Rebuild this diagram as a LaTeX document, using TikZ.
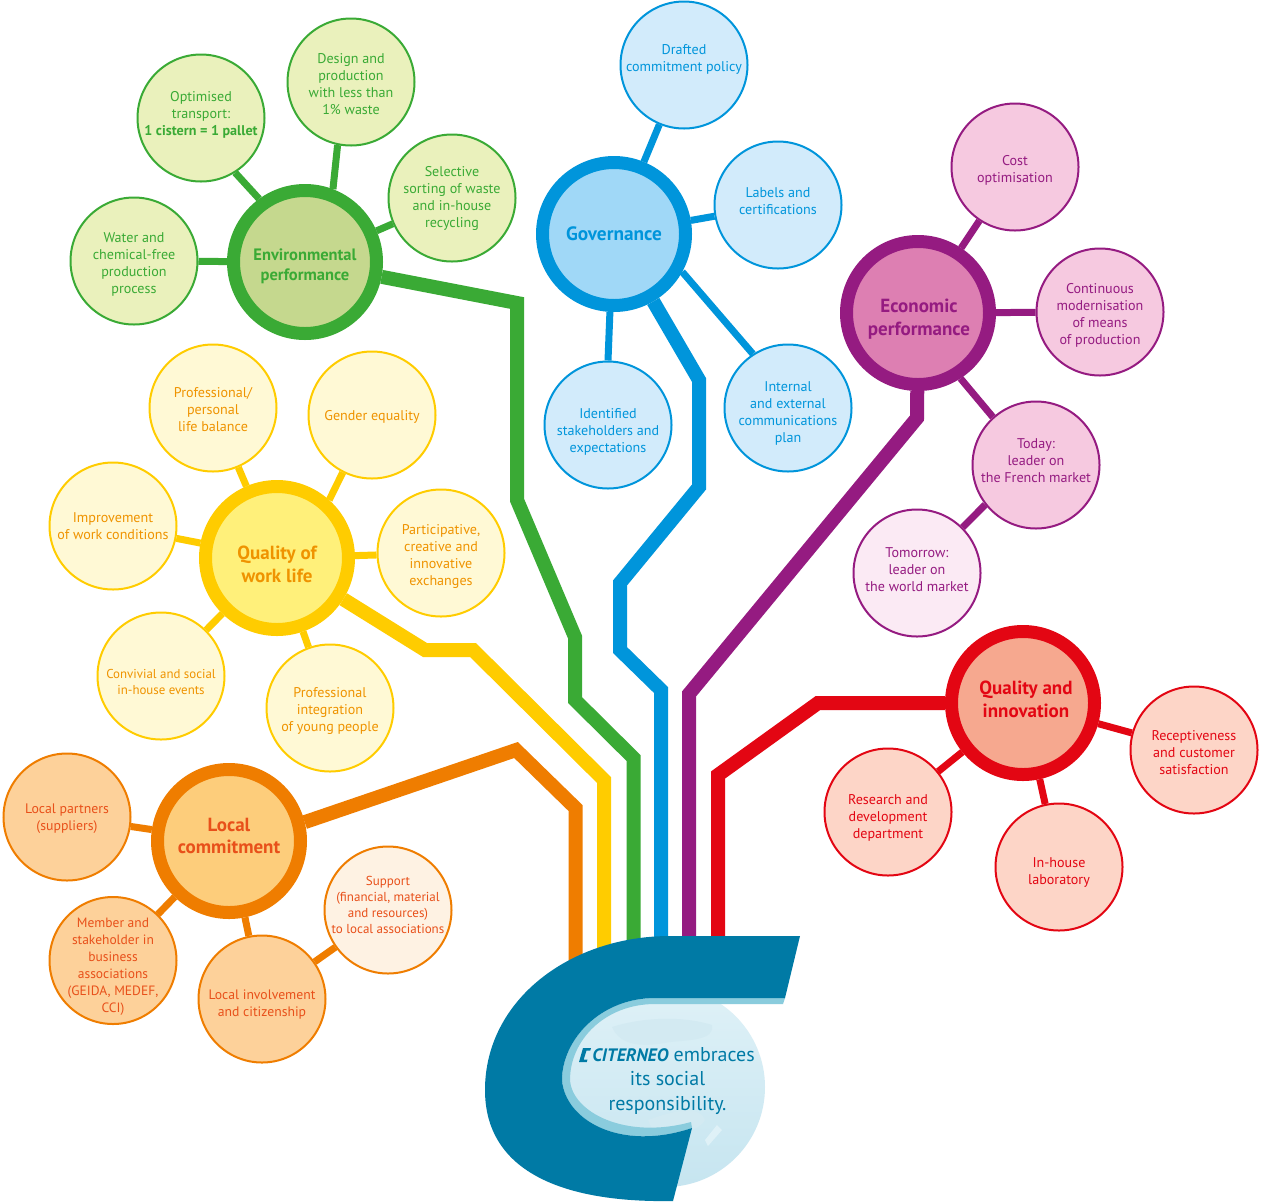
\documentclass[tikz,border=0pt]{standalone}
\usepackage{fontspec}
\setmainfont{PT Sans}
\usetikzlibrary{backgrounds,shapes.geometric}
\definecolor{cgreen}{HTML}{3AAA35}\definecolor{cblue}{HTML}{0095DB}\definecolor{cpurple}{HTML}{951B81}
\definecolor{cyellow}{HTML}{FFCC00}\definecolor{corange}{HTML}{EF7D00}\definecolor{cred}{HTML}{E30613}
\definecolor{tyellow}{HTML}{EF9300}\definecolor{torange}{HTML}{E8501A}
\definecolor{teal}{HTML}{007AA5}\definecolor{band}{HTML}{8ACCDD}
\definecolor{leafgreen}{HTML}{EAF1BC}\definecolor{leafblue}{HTML}{D2EBFB}\definecolor{leafpurple}{HTML}{F6C9E0}
\definecolor{leafyellow}{HTML}{FFF9D5}\definecolor{leaforange}{HTML}{FDD19A}\definecolor{leafred}{HTML}{FDD5C7}
\definecolor{hubgreen}{HTML}{C5D88E}\definecolor{hubblue}{HTML}{A0D8F7}\definecolor{hubpurple}{HTML}{DD7FB2}
\definecolor{hubyellow}{HTML}{FFF07A}\definecolor{huborange}{HTML}{FDCD7B}\definecolor{hubred}{HTML}{F6A88F}
\definecolor{palepurple}{HTML}{FBEAF4}\definecolor{paleorange}{HTML}{FEF2E3}
\definecolor{globetop}{HTML}{DFF1F7}\definecolor{globebot}{HTML}{C6E5F0}\definecolor{land}{HTML}{D3EAF2}
% move the text of a node down or up by #1 px
\newcommand\dnby[1]{\vphantom{Ag}\\[\dimexpr #1pt*2-\baselineskip\relax]}
\newcommand\upby[1]{\\[\dimexpr #1pt*2-\baselineskip\relax]\vphantom{Ag}}
\tikzset{
 x=1pt,y=-1pt,
 leaf/.style={circle,draw,line width=2pt,minimum size=127pt,inner sep=-12pt,align=center,
   font=\fontsize{14.1}{17}\selectfont},
 hub/.style={circle,draw,line width=13pt,minimum size=143pt,inner sep=0pt,align=center,
   font=\fontsize{19}{23}\selectfont\bfseries},
 lgreen/.style={leaf,draw=cgreen,fill=leafgreen,text=cgreen},
 lblue/.style={leaf,draw=cblue,fill=leafblue,text=cblue},
 lpurple/.style={leaf,draw=cpurple,fill=leafpurple,text=cpurple},
 lyellow/.style={leaf,draw=cyellow,fill=leafyellow,text=tyellow},
 lorange/.style={leaf,draw=corange,fill=leaforange,text=torange},
 lred/.style={leaf,draw=cred,fill=leafred,text=cred},
 trunk/.style={line width=14pt,line join=miter},
 twig/.style={line width=7pt},
}
\begin{document}
\begin{tikzpicture}
\path[use as bounding box] (0,0) rectangle (1263,1203);
% hubs
\node[hub,draw=cgreen,fill=hubgreen,text=cgreen,font=\fontsize{16.5}{20}\selectfont\bfseries] (env) at (305,262) {\dnby{4}Environmental\\performance};
\node[hub,draw=cblue,fill=hubblue,text=cblue,font=\fontsize{19.3}{22}\selectfont\bfseries] (gov) at (614,234) {Governance};
\node[hub,draw=cpurple,fill=hubpurple,text=cpurple] (eco) at (918,313) {\dnby{6.5}\hspace*{2pt}Economic\\\hspace*{2pt}performance};
\node[hub,draw=cyellow,fill=hubyellow,text=tyellow] (qwl) at (277,558) {\dnby{6.5}Quality of\\work life};
\node[hub,draw=corange,fill=huborange,text=torange,font=\fontsize{19}{22}\selectfont\bfseries] (loc) at (229,841) {Local\\commitment\upby{3}};
\node[hub,draw=cred,fill=hubred,text=cred,font=\fontsize{19}{23}\selectfont\bfseries] (qin) at (1023,703) {\hspace*{6pt}Quality and\\\hspace*{6pt}innovation\upby{1.5}};
% leaves
\node[lgreen] (e1) at (134,261) {\dnby{3}Water and\\chemical-free\\production\\process};
\node[lgreen] (e2) at (201,118) {Optimised\\transport:\\\textbf{1 cistern = 1 pallet}\upby{3.5}};
\node[lgreen] (e3) at (351,82) {\dnby{2.5}Design and\\production\\with less than\\1\% waste};
\node[lgreen] (e4) at (452,198) {Selective\\sorting of waste\\and in-house\\recycling};
\node[lblue] (g1) at (684,65) {Drafted\\commitment policy\upby{5.5}};
\node[lblue] (g2) at (778,205) {Labels and\\certifications\upby{2}};
\node[lblue] (g3) at (788,408) {\dnby{5}Internal\\and external\\communications\\plan};
\node[lblue] (g4) at (608,425) {\dnby{7}Identified\\stakeholders and\\expectations};
\node[lpurple] (p1) at (1015,167) {\dnby{3.5}Cost\\optimisation};
\node[lpurple] (p2) at (1100,312) {\dnby{3}Continuous\\modernisation\\of means\\of production};
\node[lpurple] (p3) at (1036,465) {Today:\\leader on\\the French market\upby{2.5}};
\node[lpurple,fill=palepurple] (p4) at (917,573) {Tomorrow:\\leader on\\the world market\upby{1.5}};
\node[lyellow] (y1) at (372,415) {\dnby{2}Gender equality};
\node[lyellow] (y2) at (213,408) {\dnby{2}Professional/\\personal\\life balance};
\node[lyellow] (y3) at (113,526) {Improvement\\of work conditions};
\node[lyellow] (y4) at (441,553) {\dnby{3}Participative,\\creative and\\innovative\\exchanges};
\node[lyellow,font=\fontsize{12.9}{16}\selectfont] (y5) at (161,676) {\dnby{6}Convivial and social\\in-house events};
\node[lyellow] (y6) at (330,708) {\dnby{3}Professional\\integration\\of young people};
\node[lorange,font=\fontsize{13.8}{17}\selectfont] (o1) at (67,817) {\dnby{2}Local partners\\(suppliers)};
\node[lorange,font=\fontsize{13.5}{17}\selectfont] (o2) at (113,960.5) {\dnby{6.5}Member and\\stakeholder in\\business\\associations\\(GEIDA, MEDEF,\\CCI)};
\node[lorange,font=\fontsize{13.7}{17}\selectfont] (o3) at (262,999) {\dnby{5}Local involvement\\and citizenship};
\node[lorange,fill=paleorange,font=\fontsize{13}{16}\selectfont] (o4) at (388,910) {Support\\(financial, material\\and resources)\\to local associations\upby{4}};
\node[lred] (r1) at (888,812) {\dnby{6}Research and\\development\\department};
\node[lred] (r2) at (1059,867) {\dnby{5}In-house\\laboratory};
\node[lred] (r3) at (1194,750) {\dnby{3}Receptiveness\\and customer\\satisfaction};
% bend points
\coordinate (gr1) at (517,303);\coordinate (gr2) at (517,500);\coordinate (gr3) at (575,637);
\coordinate (gr4) at (575,700);\coordinate (gr5) at (633.5,758);\coordinate (gr6) at (633.5,985);
\coordinate (bl1) at (699,380);\coordinate (bl2) at (699,487);\coordinate (bl3) at (620,583);
\coordinate (bl4) at (620,650);\coordinate (bl5) at (661,690);\coordinate (bl6) at (661,985);
\coordinate (pu1) at (917,418);\coordinate (pu2) at (689,694);\coordinate (pu3) at (689,985);
\coordinate (re1) at (818,703);\coordinate (re2) at (718,775);\coordinate (re3) at (718,985);
\coordinate (ye1) at (425,650);\coordinate (ye2) at (473,650);\coordinate (ye3) at (604,780);\coordinate (ye4) at (604,985);
\coordinate (or1) at (516,750);\coordinate (or2) at (575.5,808);\coordinate (or3) at (575.5,985);
\begin{scope}[on background layer]
\fill[white] (0,0) rectangle (1263,1203);
\draw[trunk,cgreen] (env) -- (gr1) -- (gr2) -- (gr3) -- (gr4) -- (gr5) -- (gr6);
\draw[trunk,cblue] (gov) -- (bl1) -- (bl2) -- (bl3) -- (bl4) -- (bl5) -- (bl6);
\draw[trunk,cpurple] (eco) -- (pu1) -- (pu2) -- (pu3);
\draw[trunk,cred] (qin) -- (re1) -- (re2) -- (re3);
\draw[trunk,cyellow] (qwl) -- (ye1) -- (ye2) -- (ye3) -- (ye4);
\draw[trunk,corange] (loc.14) -- (or1) -- (or2) -- (or3);
\draw[twig,cgreen] (env)--(e1) (env.126)--(e2.-58) (env.69)--(e3.-102) (env)--(e4);
\draw[twig,cblue] (gov)--(g1) (gov)--(g2) (gov.-29)--(g3.123) (gov.-93)--(g4.90);
\draw[twig,cpurple] (eco)--(p1) (eco)--(p2) (eco.-57)--(p3.132) (p3.218)--(p4.45);
\draw[twig,cyellow] (qwl.48)--(y1.-117) (qwl)--(y2) (qwl)--(y3) (qwl)--(y4) (qwl)--(y5) (qwl)--(y6);
\draw[twig,corange] (loc)--(o1) (loc)--(o2) (loc)--(o3) (o3)--(o4);
\draw[twig,cred] (qin)--(r1) (qin)--(r2) (qin)--(r3);
\end{scope}
% logo: globe
\shade[top color=globetop,bottom color=globebot] (665,1087) circle (100);
\fill[land] (612,1027) .. controls (640,1018) and (680,1015) .. (712,1025) .. controls (715,1040) and (690,1040) .. (670,1042) .. controls (640,1048) and (620,1045) .. (612,1027) -- cycle;
\fill[land] (648,1120) .. controls (675,1110) and (700,1105) .. (705,1120) .. controls (700,1130) and (680,1135) .. (655,1135) -- cycle;
\fill[globetop] (705,1140) -- (717,1125) -- (722,1130) -- (708,1146) -- cycle;
% logo: band and C
\fill[band] (785,998) -- (783,1004) -- (655,1004) .. controls (605,1004) and (570,1040) .. (570,1080) .. controls (572,1112) and (625,1140) .. (691,1122) -- (692,1128) .. controls (620,1152) and (565,1120) .. (562,1080) .. controls (562,1040) and (600,998) .. (655,998) -- cycle;
\fill[teal] (800,936) -- (785,998) -- (655,998) .. controls (600,998) and (562,1040) .. (562,1080) .. controls (565,1120) and (620,1152) .. (692,1128) -- (673,1201) .. controls (560,1203) and (485,1170) .. (485,1090) .. controls (485,1000) and (570,936) .. (670,936) -- cycle;
\node[align=center,text=teal,inner sep=0pt,font=\fontsize{20}{24.5}\selectfont] (txt) at (667.5,1081) {{\hspace*{12pt}\bfseries\itshape\fontsize{18}{20}\selectfont CITERNEO} embraces\\its social\\responsibility.};
\fill[teal] (583,1048) -- (591,1048) -- (590.3,1050.5) -- (586.5,1050.5) -- (583.7,1059.5) -- (587.5,1059.5) -- (586.8,1062) -- (579,1062) -- cycle;
\end{tikzpicture}
\end{document}
